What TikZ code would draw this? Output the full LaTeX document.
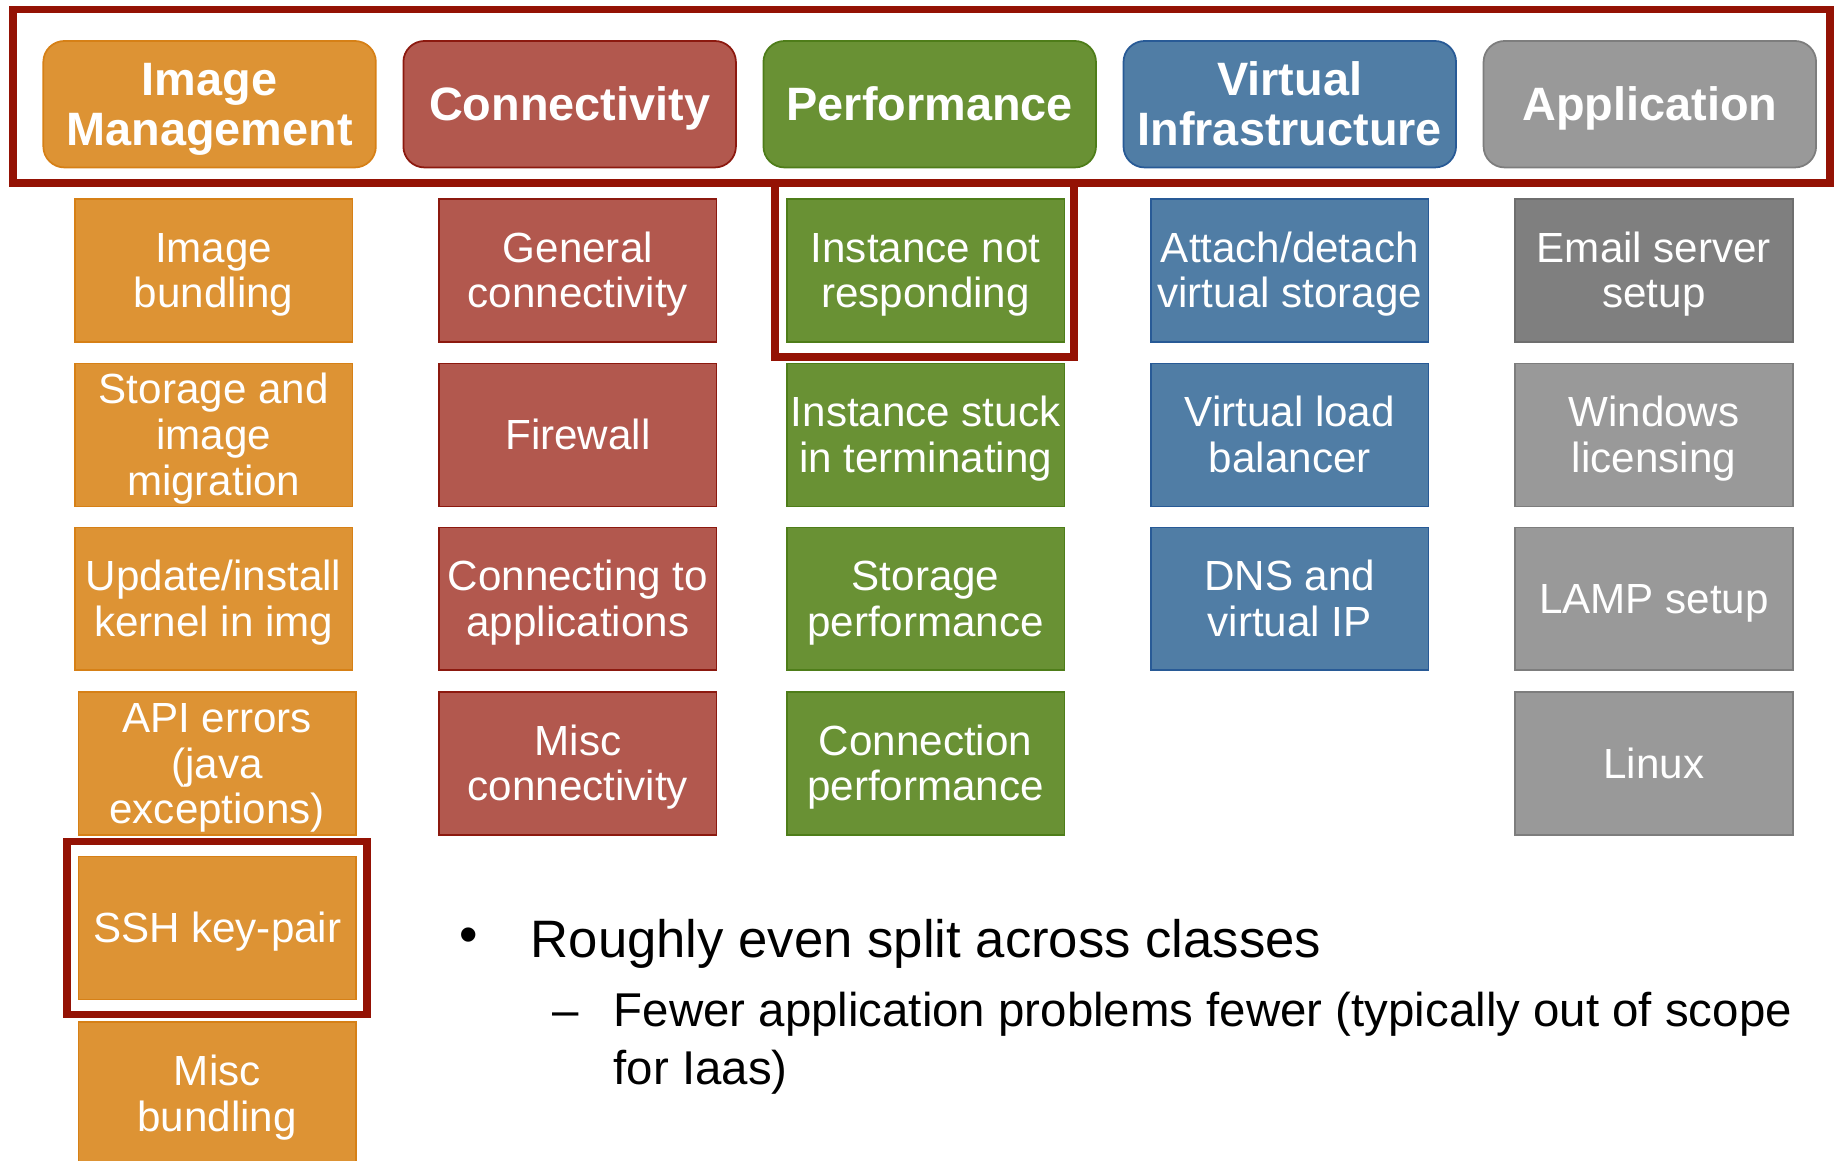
\documentclass[tikz,border=0pt]{standalone}
\usepackage{fontspec}
\setmainfont{Liberation Sans}
\definecolor{ofill}{RGB}{221,147,52}
\definecolor{oline}{RGB}{214,128,22}
\definecolor{rfill}{RGB}{178,88,78}
\definecolor{rline}{RGB}{140,25,15}
\definecolor{gfill}{RGB}{105,145,52}
\definecolor{gline}{RGB}{78,125,25}
\definecolor{bfill}{RGB}{80,125,165}
\definecolor{bline}{RGB}{40,90,150}
\definecolor{yfill}{RGB}{153,153,153}
\definecolor{yline}{RGB}{125,125,125}
\definecolor{dfill}{RGB}{127,127,127}
\definecolor{dline}{RGB}{110,110,110}
\definecolor{framec}{RGB}{148,18,4}
\newcommand\tsA{\rule{0pt}{32.6pt}}
\newcommand\tsB{\rule[-7.6pt]{0pt}{7.6pt}}
\newcommand\hsA{\rule{0pt}{36.2pt}}
\newcommand\hsB{\rule[-8.5pt]{0pt}{8.5pt}}
\begin{document}
\begin{tikzpicture}[x=1pt,y=-1pt,
  hdr/.style={rounded corners=18pt, line width=1.5pt, minimum width=284pt, minimum height=108pt,
     inner sep=0pt, align=center, text=white, font=\fontsize{40}{42}\selectfont\bfseries},
  box/.style={line width=1.5pt, minimum width=237pt, minimum height=122pt, inner sep=0pt,
     align=center, text=white, font=\fontsize{36}{39}\selectfont},
  orng/.style={fill=ofill, draw=oline},
  redd/.style={fill=rfill, draw=rline},
  gren/.style={fill=gfill, draw=gline},
  blue/.style={fill=bfill, draw=bline},
  gray/.style={fill=yfill, draw=yline},
  dgray/.style={fill=dfill, draw=dline},
  hilite/.style={draw=framec, line width=6.5pt},
  bodytext/.style={inner sep=0pt, anchor=base west, text=black}
]
\useasboundingbox (0,0) rectangle (1568,991);
% headers
\node[hdr, orng] (h1) at (179,89) {\hsA Image\\Management\hsB};
\node[hdr, redd] (h2) at (486.5,89) {\hsA Connectivity\hsB};
\node[hdr, gren] (h3) at (794,89) {\hsA Performance\hsB};
\node[hdr, blue] (h4) at (1101.5,89) {\hsA Virtual\\Infrastructure\hsB};
\node[hdr, gray] (h5) at (1409,89) {\hsA Application\hsB};
% column 1
\node[box, orng] (a1) at (182.5,231) {\tsA Image\\bundling\tsB};
\node[box, orng] (a2) at (182.5,371.5) {\tsA Storage and\\image\\migration\tsB};
\node[box, orng] (a3) at (182.5,511.5) {\tsA Update/install\\kernel in img\tsB};
\node[box, orng] (a4) at (185.5,652) {\tsA API errors\\(java\\exceptions)\tsB};
\node[box, orng] (a5) at (185.5,792.5) {\tsA SSH key-pair\tsB};
\node[box, orng] (a6) at (185.5,934) {\tsA Misc\\bundling\tsB};
% column 2
\node[box, redd] (b1) at (493.5,231) {\tsA General\\connectivity\tsB};
\node[box, redd] (b2) at (493.5,371.5) {\tsA Firewall\tsB};
\node[box, redd] (b3) at (493.5,511.5) {\tsA Connecting to\\applications\tsB};
\node[box, redd] (b4) at (493.5,652) {\tsA Misc\\connectivity\tsB};
% column 3
\node[box, gren] (c1) at (790.5,231) {\tsA Instance not\\responding\tsB};
\node[box, gren] (c2) at (790.5,371.5) {\tsA Instance stuck\\in terminating\tsB};
\node[box, gren] (c3) at (790.5,511.5) {\tsA Storage\\performance\tsB};
\node[box, gren] (c4) at (790.5,652) {\tsA Connection\\performance\tsB};
% column 4
\node[box, blue] (d1) at (1101.5,231) {\tsA Attach/detach\\virtual storage\tsB};
\node[box, blue] (d2) at (1101.5,371.5) {\tsA Virtual load\\balancer\tsB};
\node[box, blue] (d3) at (1101.5,511.5) {\tsA DNS and\\virtual IP\tsB};
% column 5
\node[box, dgray] (e1) at (1412.5,231) {\tsA Email server\\setup\tsB};
\node[box, gray] (e2) at (1412.5,371.5) {\tsA Windows\\licensing\tsB};
\node[box, gray] (e3) at (1412.5,511.5) {\tsA LAMP setup\tsB};
\node[box, gray] (e4) at (1412.5,652) {\tsA Linux\tsB};
% highlight frames
\draw[hilite] (11,8) rectangle (1563,156.5);
\draw[hilite] (662,156.5) rectangle (917,305);
\draw[hilite] (57,718.5) rectangle (313.5,866.5);
% bullet text
\node[bodytext, anchor=center, font=\fontsize{45}{45}\selectfont] (bul) at (400,803) {•};
\node[bodytext, font=\fontsize{45}{45}\selectfont] (t1) at (453,818) {Roughly even split across classes};
\node[bodytext, font=\fontsize{40.5}{40.5}\selectfont] (dsh) at (472,877) {–};
\node[bodytext, font=\fontsize{40.5}{40.5}\selectfont] (t2) at (524,877) {Fewer application problems fewer (typically out of scope};
\node[bodytext, font=\fontsize{40.5}{40.5}\selectfont] (t3) at (524,926) {for Iaas)};
\end{tikzpicture}
\end{document}
